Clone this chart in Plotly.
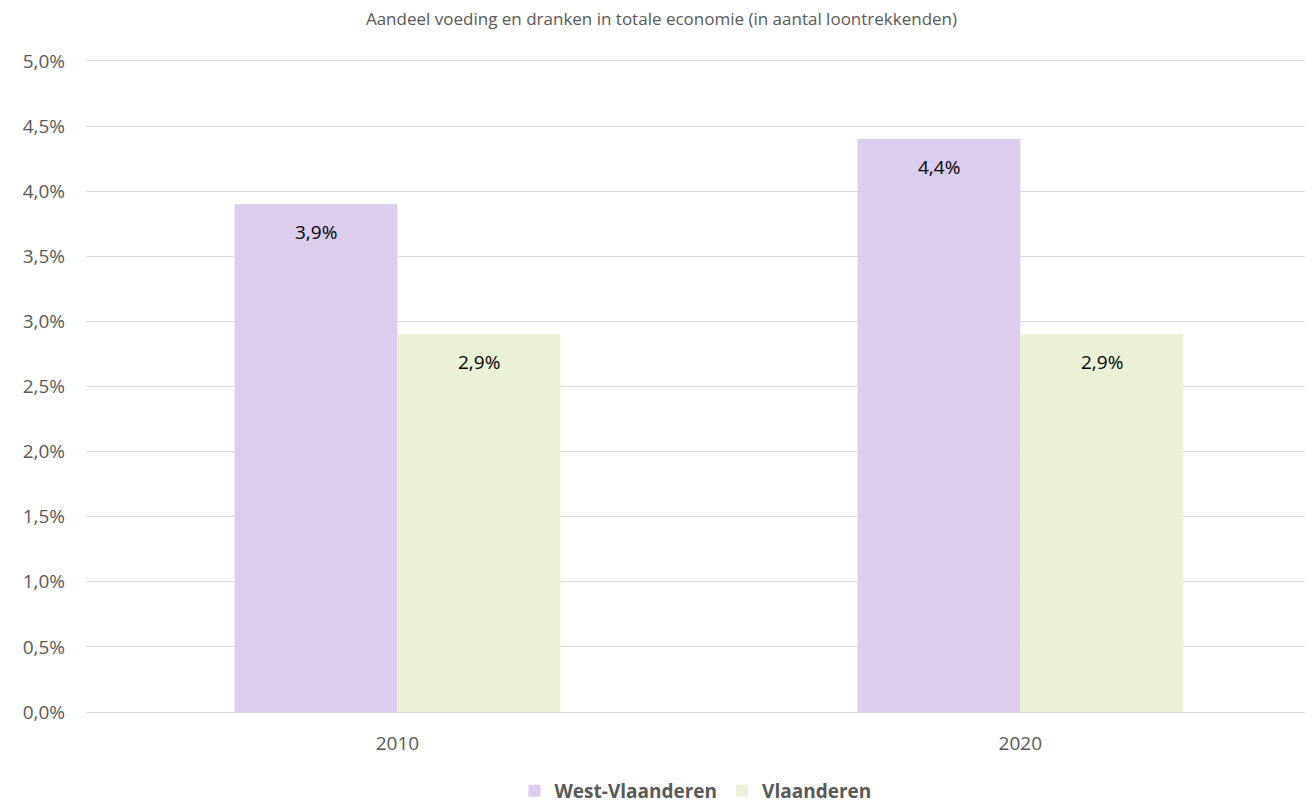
import plotly.graph_objects as go

categories = ["2010", "2020"]
west_vlaanderen = [0.039, 0.044]
vlaanderen = [0.029, 0.029]
series_names = ["West-Vlaanderen", "Vlaanderen"]
title_text = "Aandeel voeding en dranken in totale economie (in aantal loontrekkenden)"

colors = ["#DCCCEE", "#EBF1D7"]
font_family = "Open Sans, Noto Sans, sans-serif"

fig = go.Figure()
for name, vals, col in zip(series_names, [west_vlaanderen, vlaanderen], colors):
    fig.add_trace(go.Bar(
        x=categories, y=vals, name=name, marker=dict(color=col, line=dict(width=0)),
        hoverinfo="skip",
    ))

# data labels inside top of bars
offsets = [-0.131, 0.131]
for off, vals in zip(offsets, [west_vlaanderen, vlaanderen]):
    for i, v in enumerate(vals):
        fig.add_annotation(
            x=i + off, y=v, xref="x", yref="y",
            text=f"{v*100:.1f}%".replace(".", ","),
            showarrow=False, yshift=-28,
            font=dict(size=19, color="#000000", family=font_family),
        )

fig.update_layout(
    width=1307, height=798,
    margin=dict(l=78, r=10, t=49, b=94),
    paper_bgcolor="white", plot_bgcolor="white",
    separators=",.",
    barmode="group", bargap=0.477, bargroupgap=0,
    title=dict(text=title_text, x=0.5, xanchor="center", y=0.986, yanchor="middle",
               font=dict(size=17, color="#595959", family=font_family)),
    font=dict(family=font_family, color="#595959"),
    showlegend=True,
    legend=dict(orientation="h", x=0.5, xanchor="center", yref="container",
                y=0.019, yanchor="middle",
                font=dict(size=19, color="#595959", family=font_family, weight="bold"),
                traceorder="normal"),
)
fig.update_xaxes(
    type="category", range=[-0.5, 1.457], showgrid=False, showline=False,
    ticks="", ticklabelstandoff=18, tickfont=dict(size=19, color="#595959"),
)
fig.update_yaxes(
    range=[0, 0.0503], tickvals=[i * 0.005 for i in range(11)], tickformat=".1%",
    showgrid=True, gridcolor="#D9D9D9", gridwidth=1.3, zeroline=True,
    zerolinecolor="#D9D9D9", zerolinewidth=1.3, showline=False, ticks="",
    ticklabelstandoff=20, tickfont=dict(size=19, color="#595959"),
)

fig.write_html("out.html")
